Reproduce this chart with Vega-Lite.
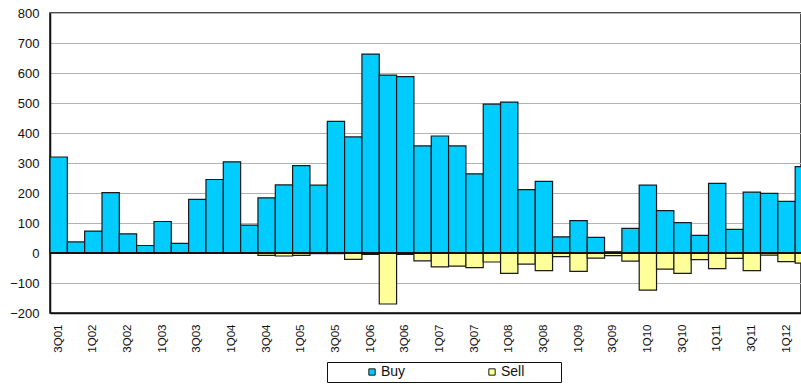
{
  "$schema": "https://vega.github.io/schema/vega-lite/v6.json",
  "autosize": {"type": "none"},
  "width": 751,
  "height": 300,
  "padding": {"left": 50, "top": 13, "right": 0, "bottom": 71},
  "background": "white",
  "config": {
    "font": "Liberation Sans",
    "view": {"stroke": "#111", "strokeWidth": 1.5}
  },
  "data": {
    "values": [
      {"q": "3Q01", "type": "Buy", "v": 320},
      {"q": "4Q01", "type": "Buy", "v": 37},
      {"q": "1Q02", "type": "Buy", "v": 73},
      {"q": "2Q02", "type": "Buy", "v": 201},
      {"q": "3Q02", "type": "Buy", "v": 64},
      {"q": "4Q02", "type": "Buy", "v": 25},
      {"q": "1Q03", "type": "Buy", "v": 105},
      {"q": "2Q03", "type": "Buy", "v": 32},
      {"q": "3Q03", "type": "Buy", "v": 179},
      {"q": "4Q03", "type": "Buy", "v": 245},
      {"q": "1Q04", "type": "Buy", "v": 304},
      {"q": "2Q04", "type": "Buy", "v": 93},
      {"q": "3Q04", "type": "Buy", "v": 184},
      {"q": "4Q04", "type": "Buy", "v": 227},
      {"q": "1Q05", "type": "Buy", "v": 291},
      {"q": "2Q05", "type": "Buy", "v": 226},
      {"q": "3Q05", "type": "Buy", "v": 439},
      {"q": "4Q05", "type": "Buy", "v": 387},
      {"q": "1Q06", "type": "Buy", "v": 663},
      {"q": "2Q06", "type": "Buy", "v": 593},
      {"q": "3Q06", "type": "Buy", "v": 588},
      {"q": "4Q06", "type": "Buy", "v": 357},
      {"q": "1Q07", "type": "Buy", "v": 390},
      {"q": "2Q07", "type": "Buy", "v": 357},
      {"q": "3Q07", "type": "Buy", "v": 264},
      {"q": "4Q07", "type": "Buy", "v": 496},
      {"q": "1Q08", "type": "Buy", "v": 503},
      {"q": "2Q08", "type": "Buy", "v": 211},
      {"q": "3Q08", "type": "Buy", "v": 239},
      {"q": "4Q08", "type": "Buy", "v": 54},
      {"q": "1Q09", "type": "Buy", "v": 108},
      {"q": "2Q09", "type": "Buy", "v": 52},
      {"q": "3Q09", "type": "Buy", "v": 4},
      {"q": "4Q09", "type": "Buy", "v": 82},
      {"q": "1Q10", "type": "Buy", "v": 226},
      {"q": "2Q10", "type": "Buy", "v": 141},
      {"q": "3Q10", "type": "Buy", "v": 101},
      {"q": "4Q10", "type": "Buy", "v": 59},
      {"q": "1Q11", "type": "Buy", "v": 232},
      {"q": "2Q11", "type": "Buy", "v": 79},
      {"q": "3Q11", "type": "Buy", "v": 203},
      {"q": "4Q11", "type": "Buy", "v": 199},
      {"q": "1Q12", "type": "Buy", "v": 172},
      {"q": "2Q12", "type": "Buy", "v": 288},
      {"q": "3Q04", "type": "Sell", "v": -8},
      {"q": "4Q04", "type": "Sell", "v": -10},
      {"q": "1Q05", "type": "Sell", "v": -8},
      {"q": "2Q05", "type": "Sell", "v": -2},
      {"q": "3Q05", "type": "Sell", "v": -2},
      {"q": "4Q05", "type": "Sell", "v": -21},
      {"q": "1Q06", "type": "Sell", "v": -5},
      {"q": "2Q06", "type": "Sell", "v": -170},
      {"q": "3Q06", "type": "Sell", "v": -5},
      {"q": "4Q06", "type": "Sell", "v": -26},
      {"q": "1Q07", "type": "Sell", "v": -46},
      {"q": "2Q07", "type": "Sell", "v": -44},
      {"q": "3Q07", "type": "Sell", "v": -49},
      {"q": "4Q07", "type": "Sell", "v": -30},
      {"q": "1Q08", "type": "Sell", "v": -68},
      {"q": "2Q08", "type": "Sell", "v": -37},
      {"q": "3Q08", "type": "Sell", "v": -59},
      {"q": "4Q08", "type": "Sell", "v": -12},
      {"q": "1Q09", "type": "Sell", "v": -61},
      {"q": "2Q09", "type": "Sell", "v": -17},
      {"q": "3Q09", "type": "Sell", "v": -9},
      {"q": "4Q09", "type": "Sell", "v": -27},
      {"q": "1Q10", "type": "Sell", "v": -124},
      {"q": "2Q10", "type": "Sell", "v": -54},
      {"q": "3Q10", "type": "Sell", "v": -68},
      {"q": "4Q10", "type": "Sell", "v": -22},
      {"q": "1Q11", "type": "Sell", "v": -52},
      {"q": "2Q11", "type": "Sell", "v": -18},
      {"q": "3Q11", "type": "Sell", "v": -59},
      {"q": "4Q11", "type": "Sell", "v": -7},
      {"q": "1Q12", "type": "Sell", "v": -29},
      {"q": "2Q12", "type": "Sell", "v": -34}
    ]
  },
  "layer": [
    {
      "mark": {"type": "bar", "stroke": "#1a1a1a", "strokeWidth": 1.2},
      "encoding": {
        "x": {
          "field": "q",
          "type": "ordinal",
          "sort": null,
          "scale": {"range": [0, 762.5], "paddingInner": 0, "paddingOuter": 0},
          "axis": {
            "title": null,
            "values": ["3Q01","1Q02","3Q02","1Q03","3Q03","1Q04","3Q04","1Q05","3Q05","1Q06","3Q06","1Q07","3Q07","1Q08","3Q08","1Q09","3Q09","1Q10","3Q10","1Q11","3Q11","1Q12"],
            "labelAngle": 270,
            "labelAlign": "right",
            "labelBaseline": "middle",
            "labelFontSize": 11.5,
            "labelColor": "#111",
            "labelPadding": 11,
            "ticks": false,
            "tickSize": 0,
            "domainColor": "#111",
            "domainWidth": 1.5,
            "grid": false
          }
        },
        "y": {
          "field": "v",
          "type": "quantitative",
          "stack": "zero",
          "scale": {"domain": [-200, 800], "nice": false},
          "axis": {
            "title": null,
            "values": [-200,-100,0,100,200,300,400,500,600,700,800],
            "labelOverlap": false,
            "labelFontSize": 13,
            "labelColor": "#111",
            "labelPadding": 11,
            "ticks": false,
            "tickSize": 0,
            "domainColor": "#111",
            "domainWidth": 1.5,
            "grid": true,
            "gridColor": "#b3b3b3",
            "gridWidth": 1
          }
        },
        "color": {
          "field": "type",
          "type": "nominal",
          "scale": {"domain": ["Buy", "p1", "Sell", "p2"], "range": ["#00ccff", "white", "#ffff99", "white"]},
          "legend": {
            "orient": "none",
            "legendX": 277,
            "legendY": 349,
            "direction": "horizontal",
            "title": "MMM",
            "titleColor": "white",
            "titleOrient": "left",
            "titleFontSize": 14,
            "titlePadding": 0,
            "padding": 3,
            "strokeColor": "#111",
            "fillColor": "white",
            "symbolType": "square",
            "symbolSize": 40,
            "symbolStrokeWidth": 1,
            "symbolOpacity": {"expr": "datum.value == 'p1' || datum.value == 'p2' ? 0 : 1"},
            "labelColor": {"expr": "datum.value == 'p1' || datum.value == 'p2' ? 'white' : '#111'"},
            "labelFontSize": 14,
            "labelOffset": 2,
            "columnPadding": 2,
            "labelExpr": "datum.label == 'p1' ? 'MMMMM' : datum.label == 'p2' ? 'Ml' : datum.label"
          }
        },
        "order": {"field": "type"}
      }
    },
    {
      "mark": {"type": "rule", "color": "#111", "strokeWidth": 1.5},
      "encoding": {
        "y": {
          "datum": 0,
          "type": "quantitative",
          "scale": {"domain": [-200, 800], "nice": false},
          "axis": {
            "title": null,
            "values": [-200,-100,0,100,200,300,400,500,600,700,800],
            "labelOverlap": false,
            "labelFontSize": 13,
            "labelColor": "#111",
            "labelPadding": 11,
            "ticks": false,
            "tickSize": 0,
            "domainColor": "#111",
            "domainWidth": 1.5,
            "grid": true,
            "gridColor": "#b3b3b3",
            "gridWidth": 1
          }
        }
      }
    }
  ]
}
